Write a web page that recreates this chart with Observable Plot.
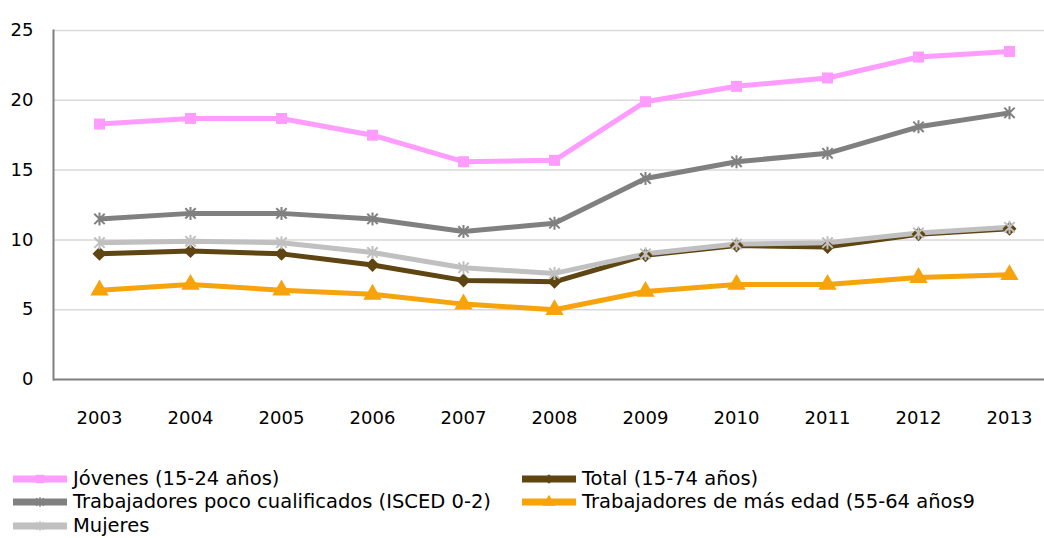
<!DOCTYPE html>
<html>
<head>
<meta charset="utf-8">
<script src="https://cdn.jsdelivr.net/npm/d3@7"></script>
<script src="https://cdn.jsdelivr.net/npm/@observablehq/plot@0.6"></script>
<style>
  html, body { margin: 0; padding: 0; background: #fff; }
  #chart { width: 1044px; height: 538px; position: relative; overflow: hidden; }
  #legend { position: absolute; left: 13px; top: 467px; width: 1030px;
    display: grid; grid-template-columns: 509px 500px;
    font-family: "DejaVu Sans", sans-serif; font-size: 19.5px; line-height: 22px; color: #000; }
  .item { display: flex; align-items: center; height: 23.5px; white-space: nowrap; }
  .item svg { margin-right: 6px; flex: none; }
</style>
</head>
<body>
<div id="chart"></div>
<script>
const years = ["2003","2004","2005","2006","2007","2008","2009","2010","2011","2012","2013"];
const seriesNames = [
  "Jóvenes (15-24 años)",
  "Total (15-74 años)",
  "Trabajadores poco cualificados (ISCED 0-2)",
  "Trabajadores de más edad (55-64 años9",
  "Mujeres"
];
const jovenes   = [18.3, 18.7, 18.7, 17.5, 15.6, 15.7, 19.9, 21.0, 21.6, 23.1, 23.5];
const total     = [9.0, 9.2, 9.0, 8.2, 7.1, 7.0, 8.9, 9.6, 9.5, 10.4, 10.8];
const pocoCual  = [11.5, 11.9, 11.9, 11.5, 10.6, 11.2, 14.4, 15.6, 16.2, 18.1, 19.1];
const mayores   = [6.4, 6.8, 6.4, 6.1, 5.4, 5.0, 6.3, 6.8, 6.8, 7.3, 7.5];
const mujeres   = [9.8, 9.9, 9.8, 9.1, 8.0, 7.6, 9.0, 9.7, 9.8, 10.5, 10.9];
const yTicks = [0, 5, 10, 15, 20, 25];

const colors  = ["#ff9cff", "#5e4512", "#808080", "#f6a30c", "#c0c0c0"];
const values  = [jovenes, total, pocoCual, mayores, mujeres];
const drawOrder = [0, 2, 3, 1, 4];

// custom symbols
const diamondSym = { draw(ctx, size) { const h = Math.sqrt(size / Math.PI);
  ctx.moveTo(0, -h); ctx.lineTo(h, 0); ctx.lineTo(0, h); ctx.lineTo(-h, 0); ctx.closePath(); } };
const starSym = { draw(ctx, size) { const h = Math.sqrt(size / Math.PI); const d = h * 0.8;
  ctx.moveTo(-d, -d); ctx.lineTo(d, d); ctx.moveTo(d, -d); ctx.lineTo(-d, d);
  ctx.moveTo(0, -h); ctx.lineTo(0, h); } };
const symbols = [d3.symbolSquare, diamondSym, starSym, d3.symbolTriangle, starSym];
const filledS = [true, true, false, true, false];
const radii   = [6.2, 7, 6.5, 6.8, 6.5];

const data = [];
drawOrder.forEach(i => years.forEach((y, j) => data.push({serie: seriesNames[i], idx: i, year: y, value: values[i][j]})));

const lineMarks = drawOrder.map(i => Plot.line(data.filter(d => d.idx === i), {
  x: "year", y: "value", stroke: colors[i], strokeWidth: 5, strokeLinejoin: "miter", strokeLinecap: "butt"
}));
const dotMarks = drawOrder.map(i => Plot.dot(data.filter(d => d.idx === i), {
  x: "year", y: "value", symbol: symbols[i], r: radii[i],
  fill: filledS[i] ? colors[i] : "none", stroke: filledS[i] ? "none" : colors[i], strokeWidth: 2
}));

const plot = Plot.plot({
  width: 1044,
  height: 445,
  marginTop: 30,
  marginBottom: 66,
  marginLeft: 53,
  marginRight: 0,
  style: { fontFamily: "'DejaVu Sans', sans-serif", fontSize: "18px", color: "#000", background: "#fff" },
  x: { type: "point", domain: years, range: [98, 1010], padding: 0, label: null },
  y: { domain: [0, 25], ticks: yTicks, label: null },
  marks: [
    Plot.ruleY(yTicks.filter(t => t > 0), { stroke: "#d9d9d9", strokeWidth: 1.5 }),
    Plot.ruleY([0], { stroke: "#808080", strokeWidth: 2 }),
    Plot.frame({ anchor: "left", stroke: "#808080", strokeWidth: 2 }),
    Plot.axisY({ ticks: yTicks, tickSize: 0, tickPadding: 20, fontSize: 18, label: null }),
    Plot.axisX({ tickSize: 0, tickPadding: 32, fontSize: 18, label: null }),
    ...lineMarks,
    ...dotMarks
  ]
});
document.getElementById("chart").appendChild(plot);

// legend
const legend = document.createElement("div");
legend.id = "legend";
[0, 1, 2, 3, 4].forEach(i => {
  const item = document.createElement("div");
  item.className = "item";
  const sw = d3.create("svg").attr("width", 54).attr("height", 16);
  sw.append("line").attr("x1", 0).attr("x2", 54).attr("y1", 8).attr("y2", 8)
    .attr("stroke", colors[i]).attr("stroke-width", 7);
  sw.append("path").attr("transform", "translate(27,8)")
    .attr("d", d3.symbol(symbols[i], 70)())
    .attr("fill", filledS[i] ? colors[i] : "none").attr("stroke", filledS[i] ? "none" : colors[i]).attr("stroke-width", 1.5);
  item.appendChild(sw.node());
  const t = document.createElement("span");
  t.textContent = seriesNames[i];
  item.appendChild(t);
  legend.appendChild(item);
});
document.getElementById("chart").appendChild(legend);
</script>
</body>
</html>
